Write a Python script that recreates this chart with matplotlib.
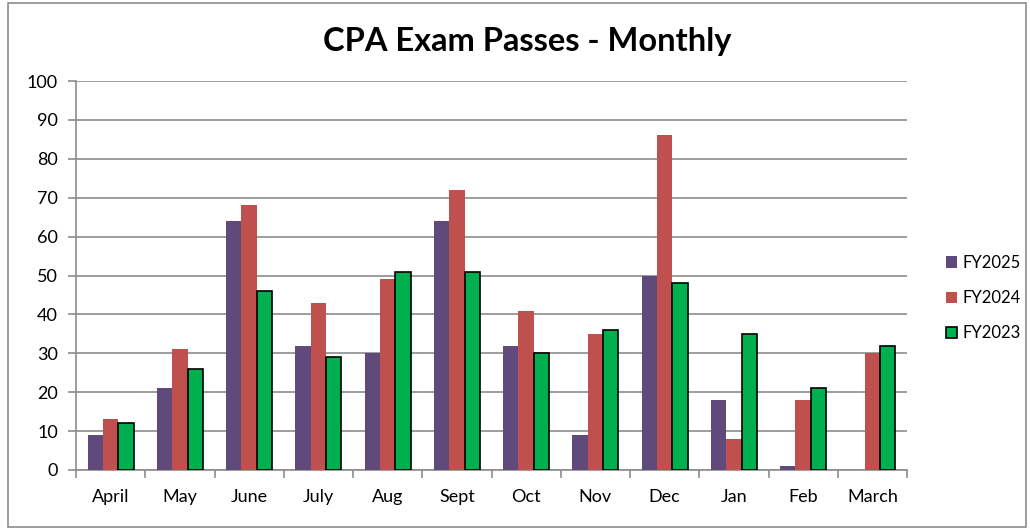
import matplotlib
matplotlib.use("Agg")
import matplotlib.pyplot as plt
import numpy as np
from matplotlib.patches import Rectangle

months = ["April", "May", "June", "July", "Aug", "Sept", "Oct", "Nov", "Dec", "Jan", "Feb", "March"]
fy2025 = [9, 21, 64, 32, 30, 64, 32, 9, 50, 18, 1, 0]
fy2024 = [13, 31, 68, 43, 49, 72, 41, 35, 86, 8, 18, 30]
fy2023 = [12, 26, 46, 29, 51, 51, 30, 36, 48, 35, 21, 32]
series_names = ["FY2025", "FY2024", "FY2023"]

plt.rcParams['font.family'] = ['Lato', 'DejaVu Sans']

fig = plt.figure(figsize=(10.30, 5.29), dpi=100)
ax = fig.add_axes([76/1030, 1 - 470/529, (907-76)/1030, (470-81)/529])

# outer border
fig.patches.append(Rectangle((8/1030, 2/529), 1018/1030, 524/529, transform=fig.transFigure,
                             fill=False, edgecolor="#8c8c8c", linewidth=1.2))

x = np.arange(len(months))
w = 1/4.5
ax.bar(x - w, fy2025, w, color="#604A7B", zorder=3, label=series_names[0])
ax.bar(x, fy2024, w, color="#C0504D", zorder=3, label=series_names[1])
ax.bar(x + w, fy2023, w, color="#00B050", edgecolor="black", linewidth=1.2, zorder=3, label=series_names[2])

ax.set_xlim(-0.5, len(months) - 0.5)
ax.set_ylim(0, 100)
ax.set_yticks(range(0, 101, 10))
ax.yaxis.grid(True, color="#8c8c8c", linewidth=1.2, zorder=0)
ax.set_axisbelow(True)
for s in ["top", "right"]:
    ax.spines[s].set_visible(False)
ax.spines["left"].set_color("#8c8c8c")
ax.spines["bottom"].set_color("#8c8c8c")
ax.spines["left"].set_linewidth(1.2)
ax.spines["bottom"].set_linewidth(1.2)

ax.set_xticks(x)
ax.set_xticklabels(months, fontsize=13)
ax.tick_params(axis="x", length=0, pad=14)
ax.set_xticks(np.arange(-0.5, len(months) + 0.5, 1), minor=True)
ax.tick_params(axis="x", which="minor", length=6, color="#8c8c8c", width=1.2)
ax.tick_params(axis="y", length=6, color="#8c8c8c", width=1.2, labelsize=13, pad=7)

fig.text(527/1030, 1 - 42/529, "CPA Exam Passes - Monthly", ha="center", va="center",
         fontsize=23.5, fontweight="bold")

leg = fig.legend(loc="center left", bbox_to_anchor=(946/1030, 1 - 298/529), frameon=False,
                 fontsize=12, handlelength=0.65, handleheight=0.65, handletextpad=0.35,
                 labelspacing=1.15, borderpad=0, borderaxespad=0)

fig.savefig("out.png", dpi=100)
